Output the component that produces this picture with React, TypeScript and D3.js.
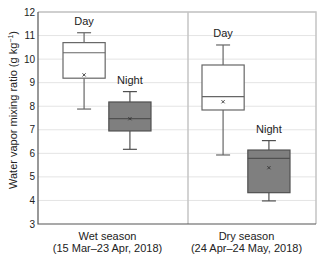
import React, { useEffect, useRef } from 'react';
import * as d3 from 'd3';

const seasons = ['Wet season', 'Dry season'];
const seasonDates = ['(15 Mar\u201323 Apr, 2018)', '(24 Apr\u201324 May, 2018)'];
const periods = ['Day', 'Night'];

// [min, q1, median, q3, max, mean] per season, Day then Night
const wetDay = [7.88, 9.19, 10.27, 10.7, 11.12, 9.33];
const wetNight = [6.17, 6.95, 7.47, 8.18, 8.62, 7.47];
const dryDay = [5.93, 7.84, 8.41, 9.75, 10.6, 8.19];
const dryNight = [3.98, 4.33, 5.79, 6.14, 6.54, 5.39];

const yTicks = [3, 4, 5, 6, 7, 8, 9, 10, 11, 12];

const stats = [
  { season: 'Wet season', period: 'Day', v: wetDay },
  { season: 'Wet season', period: 'Night', v: wetNight },
  { season: 'Dry season', period: 'Day', v: dryDay },
  { season: 'Dry season', period: 'Night', v: dryNight },
];

function App() {
  const svgRef = useRef<SVGSVGElement>(null);

  useEffect(() => {
    if (!svgRef.current) return;
    const width = 320;
    const height = 258;
    const margin = { top: 12, right: 4, bottom: 34, left: 38 };
    const font = 'Liberation Sans, Arial, sans-serif';

    const svg = d3.select(svgRef.current);
    svg.selectAll('*').remove();

    const x0 = d3.scaleBand().domain(seasons).range([margin.left, width - margin.right]);
    const x1 = d3.scaleBand().domain(periods).range([25, 113]).paddingInner(0.08);
    const y = d3.scaleLinear().domain([3, 12]).range([height - margin.bottom, margin.top]);

    const right = width - margin.right;
    const bottom = height - margin.bottom;

    // gridlines
    svg.append('g')
      .selectAll('line')
      .data(yTicks.slice(1))
      .join('line')
      .attr('x1', margin.left).attr('x2', right)
      .attr('y1', d => y(d)).attr('y2', d => y(d))
      .attr('stroke', '#e4e4e4').attr('stroke-width', 1);

    // frame: top and right light
    svg.append('path')
      .attr('d', `M${margin.left},${margin.top}H${right}V${bottom}`)
      .attr('fill', 'none').attr('stroke', '#c4c4c4').attr('stroke-width', 1.5);

    // season divider
    const divX = (x0('Dry season') as number) + 11;
    svg.append('line')
      .attr('x1', divX).attr('x2', divX)
      .attr('y1', margin.top).attr('y2', bottom)
      .attr('stroke', '#c4c4c4').attr('stroke-width', 1.5);

    // axes lines
    svg.append('path')
      .attr('d', `M${margin.left},${margin.top}V${bottom}H${right}`)
      .attr('fill', 'none').attr('stroke', '#555').attr('stroke-width', 1.2);

    // y tick labels
    svg.append('g')
      .selectAll('text')
      .data(yTicks)
      .join('text')
      .attr('x', margin.left - 3)
      .attr('y', d => y(d))
      .attr('dy', '0.35em')
      .attr('text-anchor', 'end')
      .attr('font-family', font).attr('font-size', 10).attr('fill', '#222')
      .text(d => d);

    // y title
    const yt = svg.append('text')
      .attr('transform', `translate(13,110) rotate(-90)`)
      .attr('text-anchor', 'middle')
      .attr('dy', '0.35em')
      .attr('font-family', font).attr('font-size', 11).attr('fill', '#222');
    yt.append('tspan').text('Water vapor mixing ratio (g kg');
    yt.append('tspan').attr('font-size', 7).attr('dy', '-0.5em').text('\u22121');
    yt.append('tspan').attr('dy', '0.3em').text(')');

    // x labels
    seasons.forEach((s, i) => {
      const cx = (x0(s) as number) + x0.bandwidth() / 2;
      svg.append('text')
        .attr('x', cx).attr('y', bottom + 16)
        .attr('text-anchor', 'middle')
        .attr('font-family', font).attr('font-size', 11).attr('fill', '#222')
        .text(s);
      svg.append('text')
        .attr('x', cx).attr('y', bottom + 28)
        .attr('text-anchor', 'middle')
        .attr('font-family', font).attr('font-size', 11).attr('fill', '#222')
        .text(seasonDates[i]);
    });

    // boxes
    const bw = x1.bandwidth();
    const capW = 14;
    stats.forEach(d => {
      const [mn, q1, med, q3, mx, mean] = d.v;
      const left = (x0(d.season) as number) + (x1(d.period) as number);
      const cx = left + bw / 2;
      const g = svg.append('g');
      const stroke = d.period === 'Day' ? '#666' : '#505050';
      // whiskers
      g.append('line').attr('x1', cx).attr('x2', cx).attr('y1', y(mx)).attr('y2', y(q3))
        .attr('stroke', stroke).attr('stroke-width', 1.2);
      g.append('line').attr('x1', cx).attr('x2', cx).attr('y1', y(q1)).attr('y2', y(mn))
        .attr('stroke', stroke).attr('stroke-width', 1.2);
      [mx, mn].forEach(v => {
        g.append('line').attr('x1', cx - capW / 2).attr('x2', cx + capW / 2)
          .attr('y1', y(v)).attr('y2', y(v))
          .attr('stroke', stroke).attr('stroke-width', 1.2);
      });
      g.append('rect')
        .attr('x', left).attr('y', y(q3))
        .attr('width', bw).attr('height', y(q1) - y(q3))
        .attr('fill', d.period === 'Day' ? '#fff' : '#7f7f7f')
        .attr('stroke', stroke).attr('stroke-width', 1.2);
      g.append('line').attr('x1', left).attr('x2', left + bw)
        .attr('y1', y(med)).attr('y2', y(med))
        .attr('stroke', stroke).attr('stroke-width', 1.2);
      // mean marker
      const m = 1.6;
      g.append('path')
        .attr('d', `M${cx - m},${y(mean) - m}L${cx + m},${y(mean) + m}M${cx - m},${y(mean) + m}L${cx + m},${y(mean) - m}`)
        .attr('stroke', '#333').attr('stroke-width', 0.9);
      g.append('text')
        .attr('x', cx).attr('y', y(mx) - 8)
        .attr('text-anchor', 'middle')
        .attr('font-family', font).attr('font-size', 11).attr('fill', '#222')
        .text(d.period);
    });
  }, []);

  return (
    <svg ref={svgRef} width={320} height={258}
      style={{ position: 'absolute', left: 0, top: 0, background: '#fff' }} />
  );
}

export default App;
